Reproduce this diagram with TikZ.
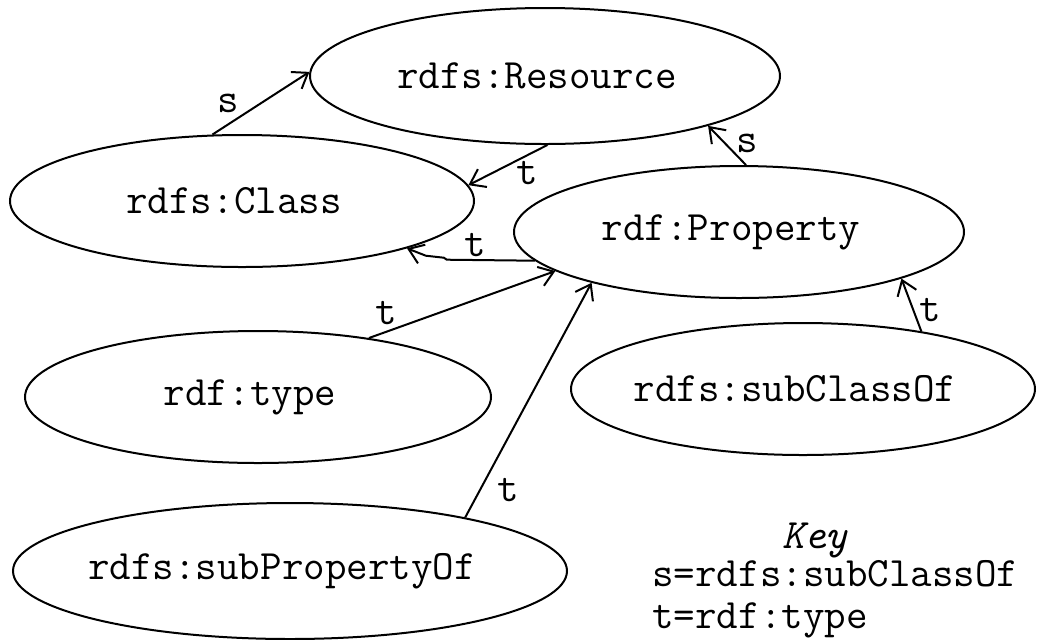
\documentclass[tikz,border=0pt]{standalone}
\usepackage{fontspec}
\usetikzlibrary{shapes.geometric,arrows.meta}

\newcommand{\rdfname}[1]{\makebox[0pt]{#1\hspace{8pt}}}

\tikzset{
	rdfnode/.style={ellipse, draw, line width=1pt, inner sep=0pt, font=\ttfamily\fontsize{20.9}{24}\selectfont},
	rdfedge/.style={line width=1pt, -{Straight Barb[length=7pt,width=10pt]}},
	rdflabel/.style={inner sep=0pt, font=\ttfamily\fontsize{20.9}{24}\selectfont}
}

\begin{document}
\begin{tikzpicture}[x=0.5pt, y=-0.5pt]

		\useasboundingbox (0,0) rectangle (1040,639);

		% classes and properties
		\node[rdfnode, minimum width=235pt, minimum height=68pt] (resource) at (545,76) {\rdfname{rdfs:Resource}};
		\node[rdfnode, minimum width=232pt, minimum height=66pt] (class) at (242,201) {\rdfname{rdfs:Class}};
		\node[rdfnode, minimum width=225pt, minimum height=66pt] (property) at (739,232) {\rdfname{rdf:Property}};
		\node[rdfnode, minimum width=233pt, minimum height=66pt] (type) at (258,397) {\rdfname{rdf:type}};
		\node[rdfnode, minimum width=232pt, minimum height=66pt] (subclassof) at (803,389) {\rdfname{rdfs:subClassOf}};
		\node[rdfnode, minimum width=277pt, minimum height=68pt] (subpropertyof) at (290,571) {\rdfname{rdfs:subPropertyOf}};

		% s = rdfs:subClassOf
		\draw[rdfedge] (class.114) -- (resource.179);
		\node[rdflabel] (sClass) at (228,103) {s};
		\draw[rdfedge] (property.84) -- (resource.343);
		\node[rdflabel] (sProperty) at (747,143) {s};

		% t = rdf:type
		\draw[rdfedge] (resource.272) -- (class.4);
		\node[rdflabel] (tResource) at (527,173) {t};
		\draw[rdfedge] (property.188) -- ++(-88,-1) -- ++(-3,-2) -- ++(-18,-2) -- (class.344); % stepped line
		\node[rdflabel] (tProperty) at (475,245) {t};
		\draw[rdfedge] (type.28) -- (property.192);
		\node[rdflabel] (tType) at (386,313) {t};
		\draw[rdfedge] (subpropertyof.17) -- (property.199);
		\node[rdflabel] (tSubProperty) at (508,490) {t};
		\draw[rdfedge] (subclassof.26) -- (property.344);
		\node[rdflabel] (tSubClass) at (930,310) {t};

		% key
		\node[rdflabel, font=\ttfamily\itshape\fontsize{20.9}{24}\selectfont, anchor=base] (key) at (815,548) {Key};
		\node[rdflabel, anchor=base west] (keyS) at (652,586) {s=rdfs:subClassOf};
		\node[rdflabel, anchor=base west] (keyT) at (652,628) {t=rdf:type};

	\end{tikzpicture}
\end{document}
